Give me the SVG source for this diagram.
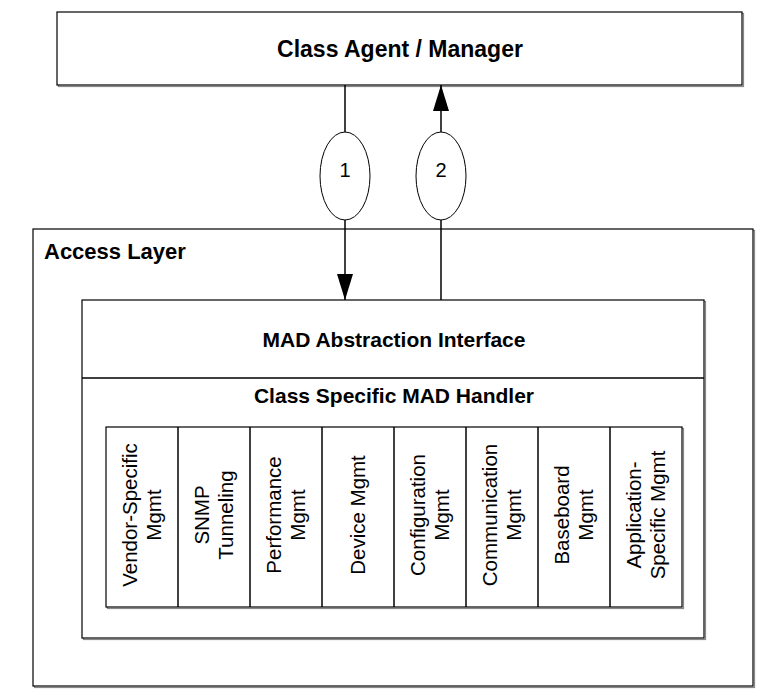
<svg xmlns="http://www.w3.org/2000/svg" width="767" height="700" viewBox="0 0 767 700">
<style>
.box{fill:#fff;stroke:#000;stroke-width:1.2}
.shadow{fill:none;stroke:#888;stroke-width:1.2}
.ln{stroke:#000;stroke-width:1.5;fill:none}
.h{font-family:"Liberation Sans",Arial,sans-serif;font-weight:bold;fill:#000}
.c{font-family:"Liberation Sans",Arial,sans-serif;font-size:20.5px;fill:#000}
.n{font-family:"Liberation Sans",Arial,sans-serif;font-size:20px;fill:#000}
</style>
<defs>
<marker id="ah" markerUnits="userSpaceOnUse" markerWidth="26" markerHeight="16" viewBox="0 0 26 16" refX="26" refY="8" orient="auto">
<path d="M0,0 L26,8 L0,16 Z" fill="#000"/>
</marker>
</defs>
<rect width="767" height="700" fill="#fff"/>
<g id="agent">
<rect class="shadow" x="58.5" y="13.5" width="685" height="73"/>
<rect class="box" x="57" y="12" width="685" height="73"/>
<text class="h" x="400" y="57" font-size="23" text-anchor="middle">Class Agent / Manager</text>
</g>
<g id="access">
<rect class="shadow" x="34.5" y="230.5" width="720" height="457"/>
<rect class="box" x="33" y="229" width="720" height="457"/>
<text class="h" x="44" y="259" font-size="22">Access Layer</text>
</g>
<g id="mad">
<rect class="shadow" x="83.5" y="301.5" width="622" height="338"/>
<rect class="box" x="82" y="300" width="622" height="338"/>
<line class="ln" x1="82" y1="378" x2="704" y2="378"/>
<text class="h" x="394" y="347" font-size="21" text-anchor="middle">MAD Abstraction Interface</text>
<text class="h" x="394" y="403" font-size="21" text-anchor="middle">Class Specific MAD Handler</text>
</g>
<g id="cells">
<rect class="shadow" x="107.5" y="428.5" width="576" height="180"/>
<rect class="box" x="106" y="427" width="576" height="180"/>
<g class="ln">
<line x1="178" y1="427" x2="178" y2="607"/>
<line x1="250" y1="427" x2="250" y2="607"/>
<line x1="322" y1="427" x2="322" y2="607"/>
<line x1="394" y1="427" x2="394" y2="607"/>
<line x1="466" y1="427" x2="466" y2="607"/>
<line x1="538" y1="427" x2="538" y2="607"/>
<line x1="610" y1="427" x2="610" y2="607"/>
</g>
<text class="c" transform="translate(142,515) rotate(-90)" text-anchor="middle"><tspan x="0" y="-5">Vendor-Specific</tspan><tspan x="0" y="19">Mgmt</tspan></text>
<text class="c" transform="translate(214,515) rotate(-90)" text-anchor="middle"><tspan x="0" y="-5">SNMP</tspan><tspan x="0" y="19">Tunneling</tspan></text>
<text class="c" transform="translate(286,515) rotate(-90)" text-anchor="middle"><tspan x="0" y="-5">Performance</tspan><tspan x="0" y="19">Mgmt</tspan></text>
<text class="c" transform="translate(358,515) rotate(-90)" text-anchor="middle"><tspan x="0" y="7">Device Mgmt</tspan></text>
<text class="c" transform="translate(430,515) rotate(-90)" text-anchor="middle"><tspan x="0" y="-5">Configuration</tspan><tspan x="0" y="19">Mgmt</tspan></text>
<text class="c" transform="translate(502,515) rotate(-90)" text-anchor="middle"><tspan x="0" y="-5">Communication</tspan><tspan x="0" y="19">Mgmt</tspan></text>
<text class="c" transform="translate(574,515) rotate(-90)" text-anchor="middle"><tspan x="0" y="-5">Baseboard</tspan><tspan x="0" y="19">Mgmt</tspan></text>
<text class="c" transform="translate(646,515) rotate(-90)" text-anchor="middle"><tspan x="0" y="-5">Application-</tspan><tspan x="0" y="19">Specific Mgmt</tspan></text>
</g>
<g id="connectors">
<line class="ln" x1="345" y1="85" x2="345" y2="132"/>
<line class="ln" x1="345" y1="220" x2="345" y2="300" marker-end="url(#ah)"/>
<line class="ln" x1="441" y1="300" x2="441" y2="220"/>
<line class="ln" x1="441" y1="132" x2="441" y2="85" marker-end="url(#ah)"/>
</g>
<g id="step1">
<ellipse cx="345" cy="176" rx="25" ry="44" fill="#fff" stroke="#000" stroke-width="1"/>
<text class="n" x="345" y="177" text-anchor="middle">1</text>
</g>
<g id="step2">
<ellipse cx="441" cy="176" rx="25" ry="44" fill="#fff" stroke="#000" stroke-width="1"/>
<text class="n" x="441" y="177" text-anchor="middle">2</text>
</g>
</svg>
